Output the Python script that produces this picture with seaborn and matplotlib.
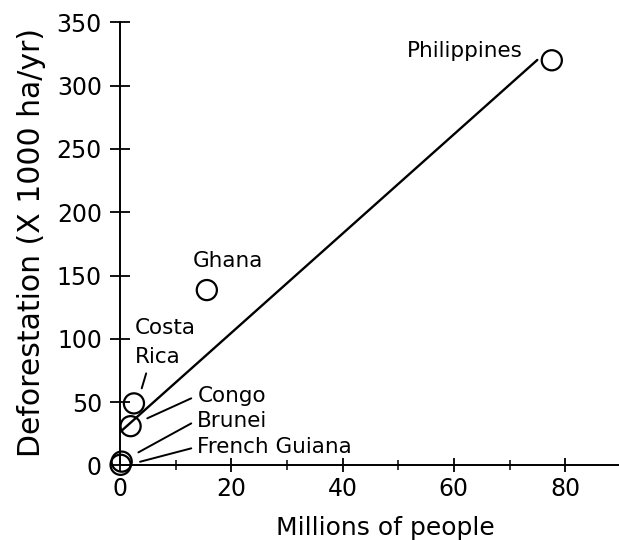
import numpy as np
import pandas as pd
import matplotlib
matplotlib.use("Agg")
import matplotlib.pyplot as plt
import seaborn as sns

# values
countries = ["Philippines", "Ghana", "Costa Rica", "Congo", "Brunei", "French Guiana"]
population = [77.6, 15.6, 2.5, 1.9, 0.3, 0.1]        # millions of people
deforestation = [320, 138.5, 49, 31, 3, 0.5]         # x 1000 ha/yr

df = pd.DataFrame({"country": countries, "pop": population, "defor": deforestation})

sns.set_style("ticks", {"axes.edgecolor": "black", "text.color": "black",
                        "axes.labelcolor": "black", "xtick.color": "black",
                        "ytick.color": "black"})
plt.rcParams["font.family"] = ["DejaVu Sans"]

fig = plt.figure(figsize=(6.19, 5.4), dpi=100)
ax = fig.add_axes([0.1939, 0.1381, 0.809, 0.8206])

# least squares line, drawn up to the edge of the Philippines marker
slope, intercept = np.polyfit(df["pop"], df["defor"], 1)
x_fit = np.array([0, 75])
sns.lineplot(x=x_fit, y=intercept + slope * x_fit, color="black", lw=1.7, ax=ax)

sns.scatterplot(data=df, x="pop", y="defor", s=210, facecolor="none",
                edgecolor="black", linewidth=1.6, ax=ax, clip_on=False, zorder=3)

# labels
fs = 15.5
ax.text(51.6, 322.8, "Philippines", fontsize=fs, va="baseline")
ax.text(13.05, 156.5, "Ghana", fontsize=fs, va="baseline")
ax.text(2.7, 103.6, "Costa", fontsize=fs, va="baseline")
ax.text(2.7, 81, "Rica", fontsize=fs, va="baseline")
ax.text(13.9, 50.3, "Congo", fontsize=fs, va="baseline")
ax.text(13.9, 30.6, "Brunei", fontsize=fs, va="baseline")
ax.text(13.9, 9.5, "French Guiana", fontsize=fs, va="baseline")

# leader lines
ax.plot([4.7, 3.9], [72.7, 60.9], color="black", lw=1.4)
ax.plot([12.8, 4.9], [53, 37.2], color="black", lw=1.4)
ax.plot([12.8, 3.3], [33.2, 10.3], color="black", lw=1.4)
ax.plot([12.8, 3.6], [13.5, 2.9], color="black", lw=1.4)

ax.set_xlim(0, 90)
ax.set_ylim(0, 350)
ax.set_xticks([0, 20, 40, 60, 80])
ax.set_xticks([10, 30, 50, 70], minor=True)
ax.set_yticks(range(0, 351, 50))
ax.tick_params(which="major", direction="inout", width=1.3, labelsize=17, colors="black")
ax.tick_params(axis="x", which="major", length=10, pad=3)
ax.tick_params(axis="y", which="major", length=14, pad=6)
ax.tick_params(which="minor", direction="inout", length=7, width=1.1, colors="black")
sns.despine(ax=ax)
for s in ["left", "bottom"]:
    ax.spines[s].set_linewidth(1.4)
    ax.spines[s].set_color("black")

ax.set_xlabel("Millions of people", fontsize=18, va="baseline", color="black")
ax.xaxis.set_label_coords(0.529, -0.157)
ax.set_ylabel("Deforestation (X 1000 ha/yr)", fontsize=21.5, va="baseline", color="black")
ax.yaxis.set_label_coords(-0.16, 0.503)

fig.savefig("out.png", dpi=100)
